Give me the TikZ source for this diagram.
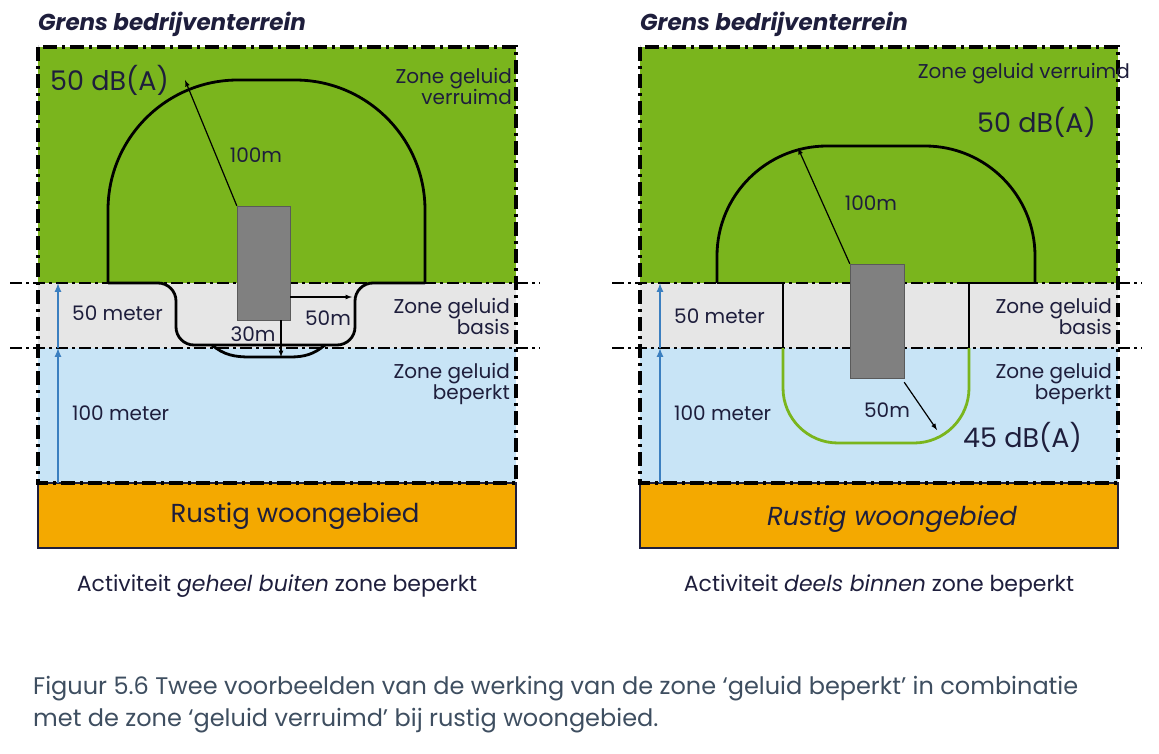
\documentclass[tikz,border=0pt]{standalone}
\usepackage{fontspec}
\setmainfont{Poppins}
\definecolor{grn}{HTML}{7AB51D}
\definecolor{gry}{HTML}{E6E6E6}
\definecolor{blu}{HTML}{C8E4F6}
\definecolor{org}{HTML}{F4A900}
\definecolor{bld}{HTML}{808080}
\definecolor{arb}{HTML}{3B7FC0}
\definecolor{txt}{HTML}{1E1E3C}
\definecolor{cap}{HTML}{3E4E60}
\tikzset{
 lbl/.style={text=txt,font=\fontsize{20}{22}\selectfont,inner sep=0pt},
 lblr/.style={lbl,align=right,anchor=east,font=\fontsize{20}{21}\selectfont},
 db/.style={text=txt,font=\fontsize{27}{29}\selectfont,inner sep=0pt},
 border/.style={line width=3.5pt,dash pattern=on 14pt off 5pt on 3pt off 5pt},
 hline/.style={line width=1.5pt,dash pattern=on 12pt off 4pt on 3pt off 4pt},
 contour/.style={line width=2.8pt},
 meas/.style={line width=1.2pt,-latex},
 bluarr/.style={arb,line width=2pt,-latex},
}
\begin{document}
\begin{tikzpicture}[x=1pt,y=-1pt]
\useasboundingbox (0,0) rectangle (1159,754);
\foreach \o/\k in {0/L,602/R}{
 \begin{scope}[xshift=\o pt]
 \fill[grn] (38,47) rectangle (516,283);
 \fill[gry] (38,283) rectangle (516,348);
 \fill[blu] (38,348) rectangle (516,483);
 \fill[org,draw=txt,line width=2pt] (38,483) rectangle (516,548);
 \draw[border] (38,47) rectangle (516,483);
 \draw[hline] (10,283) -- (540,283);
 \draw[hline] (10,348) -- (540,348);
 \coordinate (b\k) at (58,483); \coordinate (m\k) at (58,348); \coordinate (t\k) at (58,283);
 \draw[bluarr] (b\k) -- (m\k);
 \draw[bluarr] (m\k) -- (t\k);
 \node[lblr] at (510,316) {Zone geluid\\basis};
 \node[lblr] at (510,384) {Zone geluid\\beperkt};
 \node[font=\fontsize{22}{24}\selectfont,text=txt,anchor=north] at (277,571) {\ifnum\o=0 Activiteit \emph{geheel buiten} zone beperkt\else Activiteit \emph{deels binnen} zone beperkt\fi};
 \node[anchor=west,text=txt,font=\fontsize{23}{25}\selectfont\bfseries\itshape,inner sep=0pt] at (38,24) {Grens bedrijventerrein};
 \end{scope}}
% left panel
\draw[contour,rounded corners=130] (108,283) -- (108,80) -- (425,80) -- (425,283);
\draw[contour,rounded corners=18] (108,283) -- (176,283) -- (176,345) -- (355,345) -- (355,283) -- (425,283);
\draw[contour] (212,345) to[out=-40,in=180] (250,357) -- (290,357) to[out=0,in=-140] (325,345);
\node[draw=bld!70!black,fill=bld,minimum width=53pt,minimum height=114pt,inner sep=0pt] (bl) at (263.5,263) {};
\coordinate (a1) at (185,80);
\draw[meas] (bl.north west) -- (a1);
\coordinate (a2) at (352,297);
\draw[meas] (bl.east |- a2) -- (a2);
\coordinate (a3) at (281,357);
\draw[meas] (bl.south -| a3) -- (a3);
\node[lbl] at (256,155) {100m};
\node[lbl] at (328,318) {50m};
\node[lbl] at (253,334) {30m};
\node[db,anchor=west] at (50,80) {50 dB(A)};
\node[lblr] at (512,86) {Zone geluid\\verruimd};
\node[lbl,anchor=west] at (72,313) {50 meter};
\node[lbl,anchor=west] at (72,413) {100 meter};
\node[text=txt,font=\fontsize{26}{28}\selectfont,inner sep=0pt] at (295,516) {Rustig woongebied};
% right panel
\draw[contour,rounded corners=110] (717,283) -- (717,146) -- (1035,146) -- (1035,283);
\draw[contour] (717,283) -- (783,283) -- (783,348);
\draw[contour] (969,348) -- (969,283) -- (1035,283);
\draw[grn,line width=2.8pt,rounded corners=55] (783,348) -- (783,443) -- (969,443) -- (969,348);
\node[draw=bld!70!black,fill=bld,minimum width=54pt,minimum height=114pt,inner sep=0pt] (br) at (877,321) {};
\coordinate (a4) at (798,148);
\draw[meas] (br.north west) -- (a4);
\coordinate (a5) at (937,430);
\draw[meas] (br.south east) ++(0,4) -- (a5);
\node[lbl] at (871,203) {100m};
\node[lbl] at (887,410) {50m};
\node[lbl,anchor=east] at (1130,74) {Zone geluid verruimd};
\node[db,anchor=east] at (1096,122) {50 dB(A)};
\node[db,anchor=east] at (1082,437) {45 dB(A)};
\node[lbl,anchor=west] at (674,316) {50 meter};
\node[lbl,anchor=west] at (674,413) {100 meter};
\node[text=txt,font=\fontsize{26}{28}\selectfont\itshape,inner sep=0pt] at (892,519) {Rustig woongebied};
\node[anchor=north west,align=left,text=cap,font=\fontsize{24}{32}\selectfont,inner sep=0pt] at (33,676) {Figuur 5.6 Twee voorbeelden van de werking van de zone ‘geluid beperkt’ in combinatie\\met de zone ‘geluid verruimd’ bij rustig woongebied.};
\end{tikzpicture}
\end{document}
